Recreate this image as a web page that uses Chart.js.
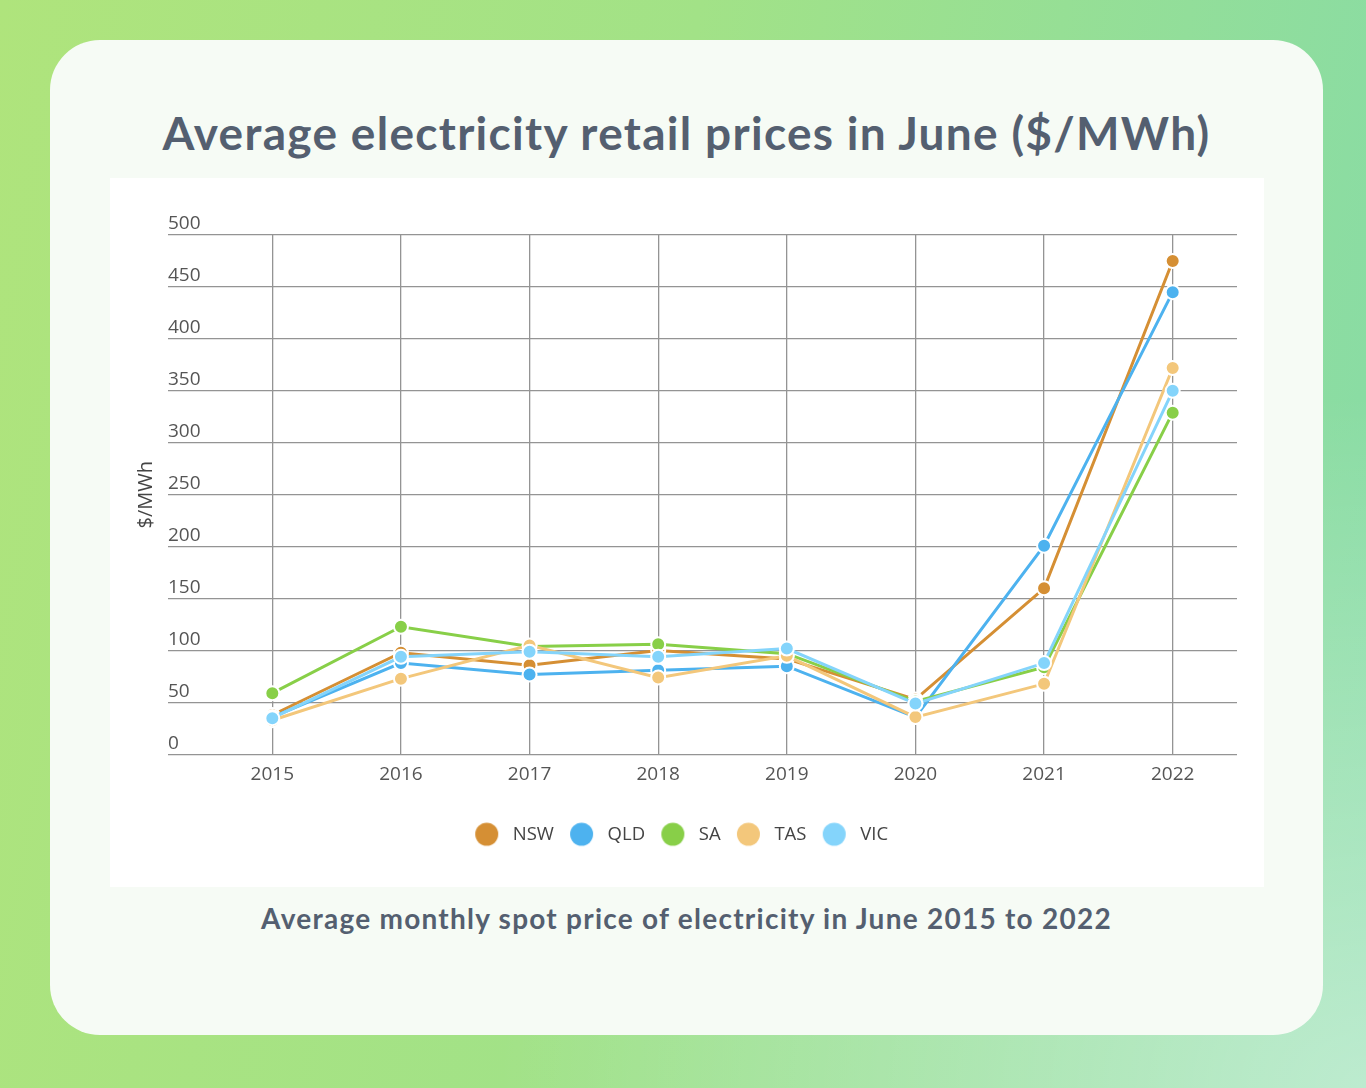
<!DOCTYPE html>
<html>
<head>
<meta charset="utf-8">
<script src="https://cdn.jsdelivr.net/npm/chart.js@4/dist/chart.umd.min.js"></script>
<style>
  html, body { margin: 0; padding: 0; }
  body {
    width: 1366px; height: 1088px; position: relative; overflow: hidden;
    background:
      radial-gradient(ellipse at 100% 100%, rgba(255,255,255,0.45) 0%, rgba(255,255,255,0) 45%),
      linear-gradient(100deg, #afe47c 0%, #a2e287 45%, #86dba8 100%);
  }
  #card {
    position: absolute; left: 50px; top: 40px; width: 1273px; height: 995px;
    border-radius: 50px; background: #f6fbf5;
  }
  #title {
    position: absolute; left: 50px; width: 1273px; top: 104px; text-align: center;
    font-family: Lato, "Open Sans", sans-serif; font-weight: 700; font-size: 46px;
    letter-spacing: 1.3px;
    color: #545f70; line-height: 58px; white-space: nowrap;
  }
  #box {
    position: absolute; left: 110px; top: 178px; width: 1154px; height: 709px; background: #ffffff;
  }
  #subtitle {
    position: absolute; left: 50px; width: 1273px; top: 899px; text-align: center;
    font-family: Lato, "Open Sans", sans-serif; font-weight: 700; font-size: 28px;
    letter-spacing: 1.25px;
    color: #545f70; line-height: 38px; white-space: nowrap;
  }
</style>
</head>
<body>
<div id="card"></div>
<div id="title">Average electricity retail prices in June ($/MWh)</div>
<div id="box"><canvas id="c" width="1154" height="709"></canvas></div>
<div id="subtitle">Average monthly spot price of electricity in June 2015 to 2022</div>
<script>
const years = ['2015', '2016', '2017', '2018', '2019', '2020', '2021', '2022'];
const seriesNames = ['NSW', 'QLD', 'SA', 'TAS', 'VIC'];
const nsw = [38, 98, 86, 100, 92, 53, 160, 475];
const qld = [36, 88, 77, 81, 85, 36, 201, 445];
const sa  = [59, 123, 104, 106, 97, 51, 84, 329];
const tas = [33, 73, 105, 74, 95, 36, 68, 372];
const vic = [35, 94, 99, 94, 102, 49, 88, 350];
const seriesColors = ['#d58f34', '#4db2ef', '#88cf48', '#f3c77b', '#84d4fb'];
const yTicks = [0, 50, 100, 150, 200, 250, 300, 350, 400, 450, 500];
const yTitle = '$/MWh';

const allSeries = [nsw, qld, sa, tas, vic];
const GRID = '#949494';

function legendDot(color) {
  const cv = document.createElement('canvas');
  cv.width = 44; cv.height = 26;
  const g = cv.getContext('2d');
  g.fillStyle = color;
  g.beginPath(); g.arc(14.5, 13, 11.5, 0, Math.PI * 2); g.fill();
  return cv;
}
const dots = seriesColors.map(legendDot);

const yLabelPlugin = {
  id: 'yLabels',
  afterDraw(chart) {
    const ys = chart.scales.y;
    const ctx = chart.ctx;
    ctx.save();
    ctx.font = '19px "Open Sans"';
    ctx.fillStyle = '#555555';
    ctx.textAlign = 'left';
    ctx.textBaseline = 'alphabetic';
    yTicks.forEach(v => {
      ctx.fillText(String(v), chart.chartArea.left - 40, ys.getPixelForValue(v) - 6);
    });
    ctx.restore();
  }
};

const datasets = seriesNames.map((name, i) => ({
  label: name,
  data: allSeries[i],
  borderColor: seriesColors[i],
  backgroundColor: seriesColors[i],
  pointBackgroundColor: seriesColors[i],
  pointBorderColor: '#ffffff',
  pointBorderWidth: 2,
  pointRadius: 7,
  pointHoverRadius: 7,
  borderWidth: 3,
  tension: 0,
  order: seriesNames.length - i
}));

new Chart(document.getElementById('c'), {
  type: 'line',
  data: { labels: years, datasets },
  plugins: [yLabelPlugin],
  options: {
    responsive: false,
    animation: false,
    layout: { padding: { left: 26, right: 27, top: 57, bottom: 33.5 } },
    scales: {
      x: {
        type: 'category',
        offset: true,
        grid: { color: GRID, lineWidth: 1.3, drawTicks: false, offset: false },
        border: { display: false },
        ticks: { color: '#555555', font: { family: 'Open Sans', size: 19 }, padding: 9, maxRotation: 0 },
        afterFit(scale) { scale.height = 44.5; }
      },
      y: {
        min: 0, max: 500,
        ticks: { display: false, stepSize: 50 },
        grid: { color: GRID, lineWidth: 1.3, drawTicks: true, tickLength: 40, tickColor: GRID },
        border: { display: false },
        title: {
          display: true, text: yTitle, color: '#444444',
          font: { family: 'Open Sans', size: 20, lineHeight: 1.2 },
          padding: { top: -2, bottom: 10 }
        }
      }
    },
    plugins: {
      tooltip: { enabled: false },
      legend: {
        position: 'bottom',
        labels: {
          usePointStyle: true,
          color: '#444444',
          font: { family: 'Open Sans', size: 18.5 },
          padding: 26,
          sort: (a, b) => a.datasetIndex - b.datasetIndex,
          generateLabels(chart) {
            const items = Chart.defaults.plugins.legend.labels.generateLabels(chart);
            items.forEach(it => { it.pointStyle = dots[it.datasetIndex]; it.lineWidth = 0; });
            return items;
          }
        }
      }
    }
  }
});
</script>
</body>
</html>
